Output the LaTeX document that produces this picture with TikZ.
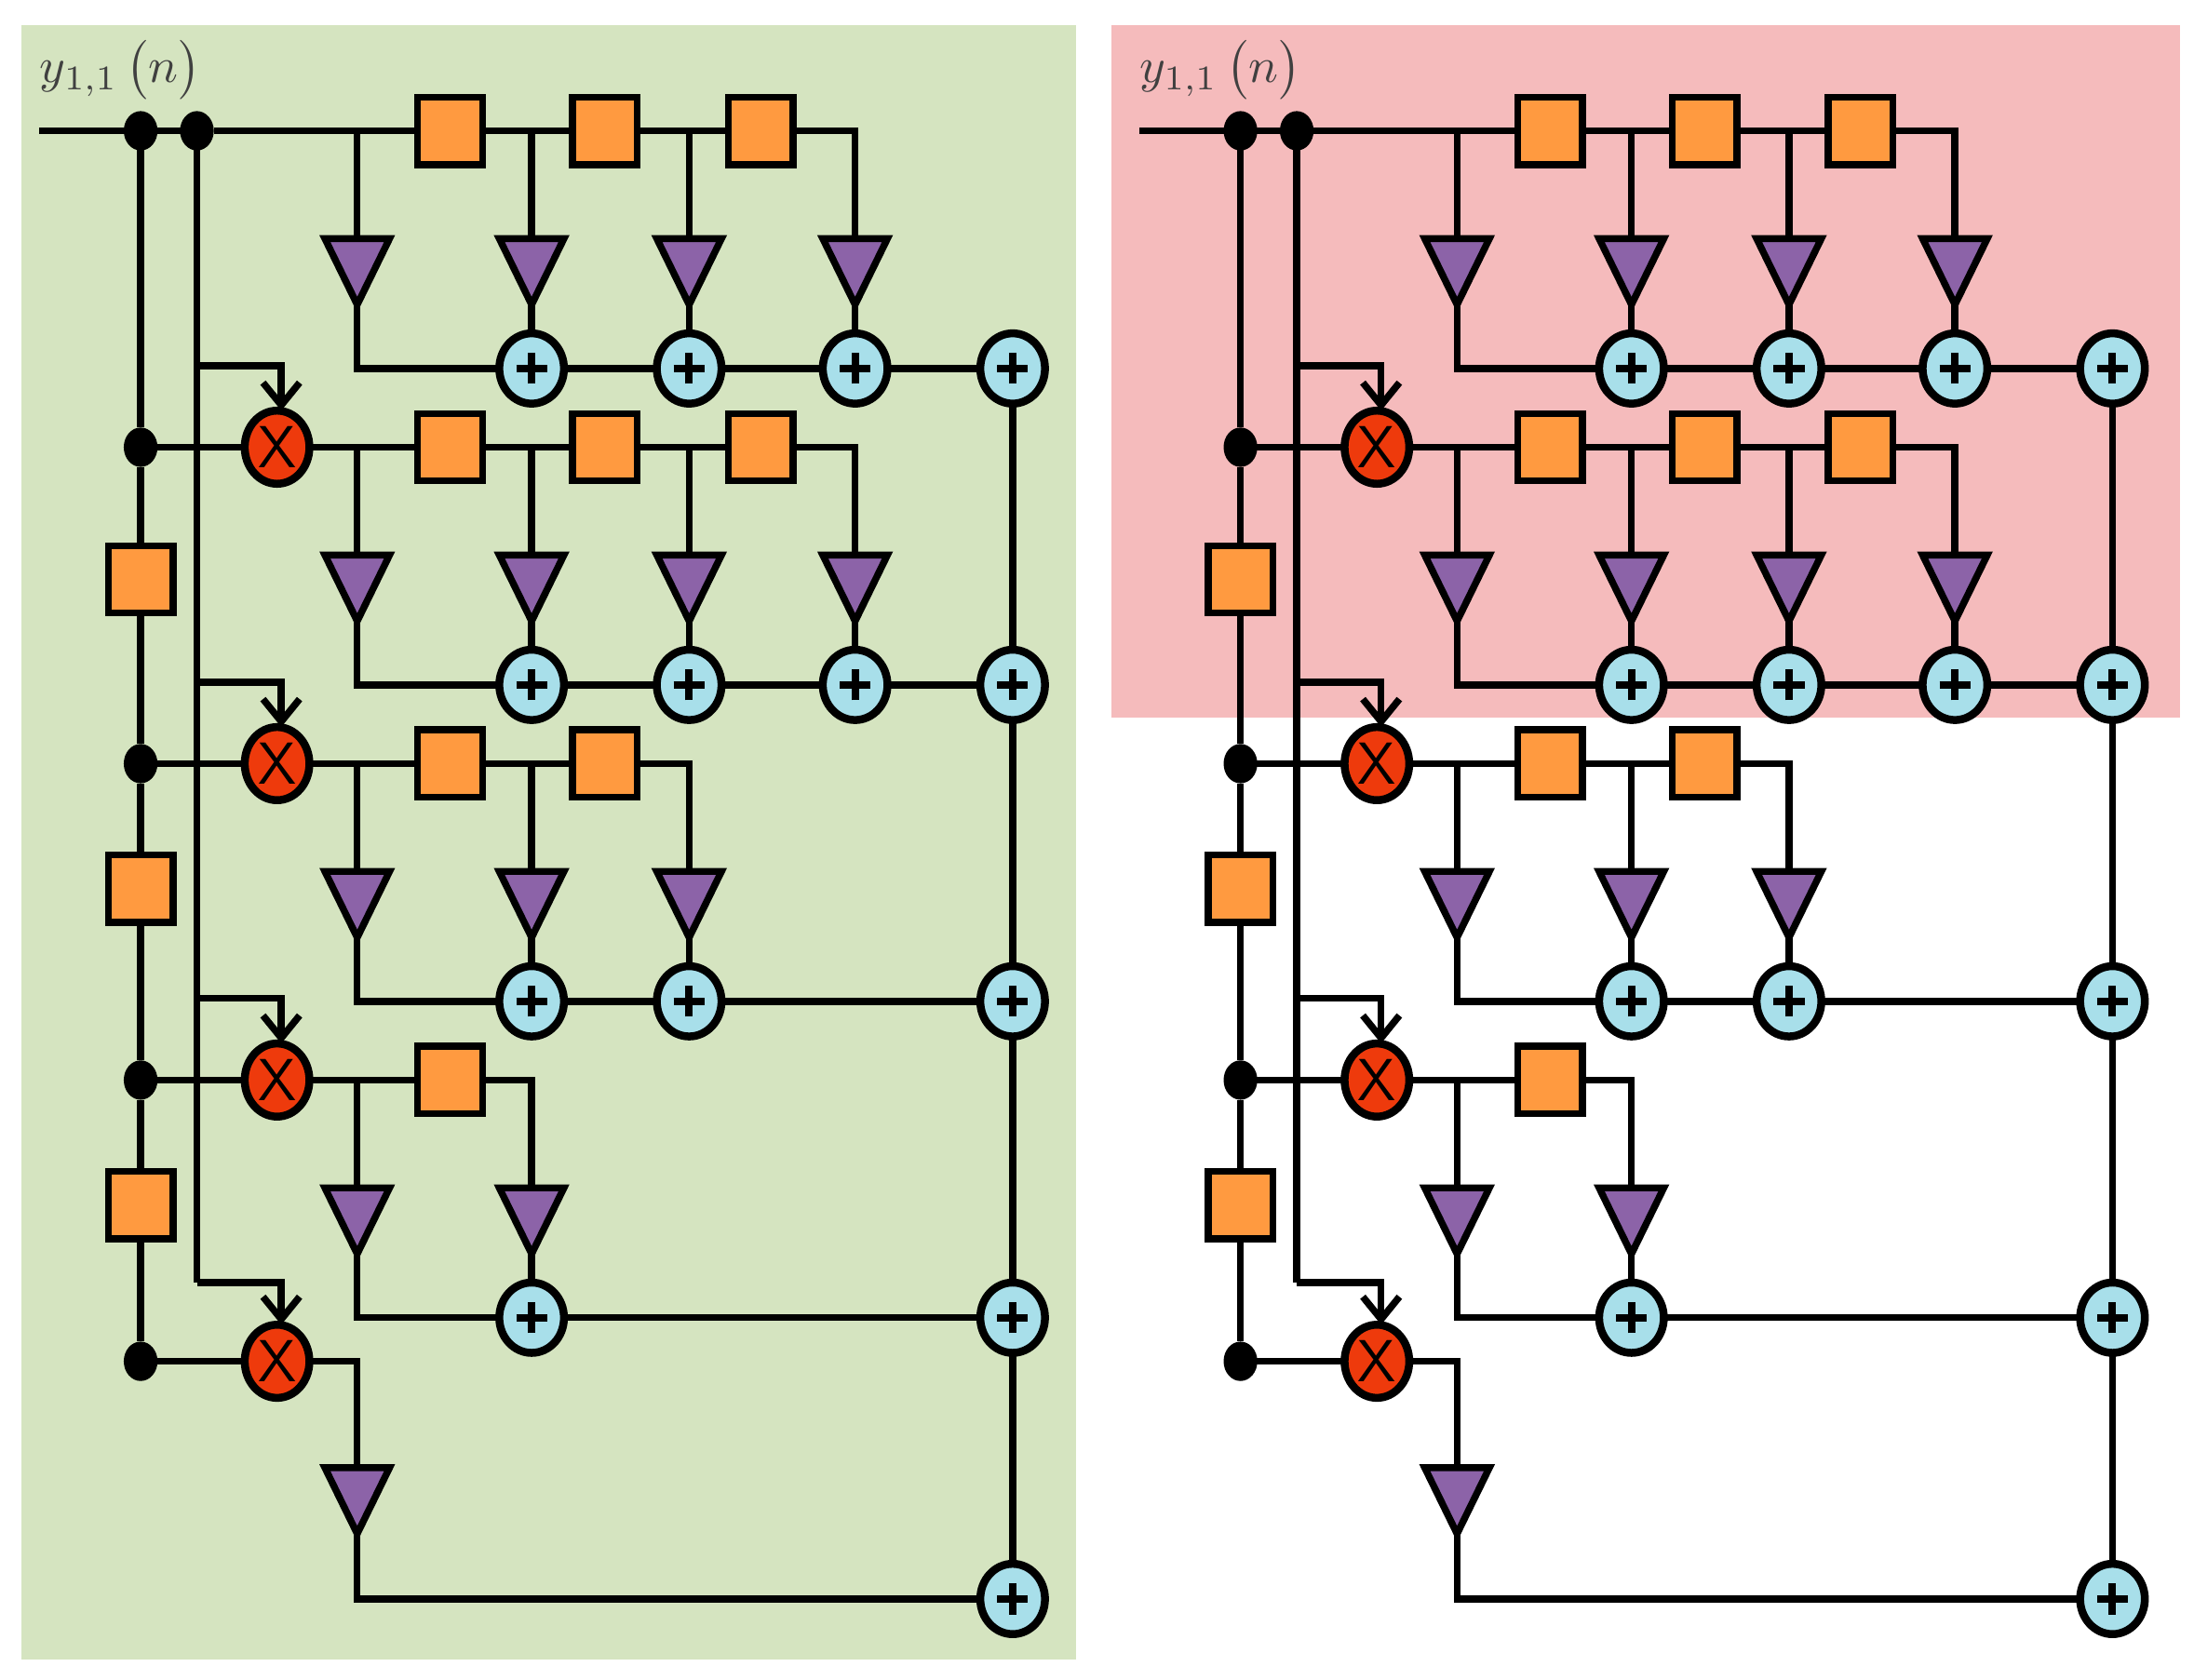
\documentclass[tikz,border=0pt]{standalone}
\usetikzlibrary{shapes.geometric,arrows.meta}
\definecolor{dorange}{HTML}{FF9A40}
\definecolor{dpurple}{HTML}{8C63A8}
\definecolor{dcyan}{HTML}{A8DFEA}
\definecolor{dred}{HTML}{EE3A0C}
\definecolor{bggreen}{HTML}{D5E4C0}
\definecolor{bgpink}{HTML}{F5BBBC}
\tikzset{
  every path/.style={line width=1.4pt},
  delay/.style={draw,fill=dorange,minimum width=0.46cm,minimum height=0.48cm,inner sep=0pt,outer sep=0pt,line width=1.4pt},
  gain/.style={draw,fill=dpurple,isosceles triangle,shape border rotate=270,isosceles triangle stretches,minimum width=0.46cm,minimum height=0.47cm,inner sep=0pt,outer sep=0pt,line width=1.4pt},
  adder/.style={draw,fill=dcyan,ellipse,minimum width=0.46cm,minimum height=0.5cm,inner sep=0pt,outer sep=0pt,line width=1.6pt,
    path picture={\draw[line width=1.5pt] ([xshift=-0.11cm]path picture bounding box.center) -- ([xshift=0.11cm]path picture bounding box.center);
      \draw[line width=1.5pt] ([yshift=-0.11cm]path picture bounding box.center) -- ([yshift=0.11cm]path picture bounding box.center);}},
  mult/.style={draw,fill=dred,ellipse,minimum width=0.46cm,minimum height=0.52cm,inner sep=0pt,outer sep=0pt,line width=1.6pt,font=\sffamily\large},
  dot/.style={fill=black,ellipse,minimum width=0.24cm,minimum height=0.28cm,inner sep=0pt,outer sep=0pt},
  arr/.style={-{Straight Barb[length=1.6mm,width=2.6mm]}}
}
\def\Tlist{{2.54,3.78,4.90,6.08}}
\def\Dlist{{0,3.20,4.30,5.41}}
\newcommand\drawpanel[2]{%
\begin{scope}[xshift=#2cm]
  \node[text=black!75,anchor=west,inner sep=0pt] (#1lab) at (0.26,-0.50) {$y_{1,1}\left(\vphantom{\big|}n\right)$};
  \coordinate (#1in) at (0.28,-0.93);
  \node[dot] (#1s0) at (1.00,-0.93) {};
  \node[dot,alias=#1m1] (#1s1) at (1.40,-0.93) {};
  \node[dot] (#1v2) at (1.00,-3.18) {};
  \node[dot] (#1v3) at (1.00,-5.43) {};
  \node[dot] (#1v4) at (1.00,-7.68) {};
  \node[dot] (#1v5) at (1.00,-9.68) {};
  \node[delay] (#1L1) at (1.00,-4.12) {};
  \node[delay] (#1L2) at (1.00,-6.32) {};
  \node[delay] (#1L3) at (1.00,-8.57) {};
  \node[mult] (#1m2) at (1.97,-3.18) {X};
  \node[mult] (#1m3) at (1.97,-5.43) {X};
  \node[mult] (#1m4) at (1.97,-7.68) {X};
  \node[mult] (#1m5) at (1.97,-9.68) {X};
  \draw (#1in) -- (#1s0.center) -- (#1s1.center);
  \draw (#1s0.center) -- (#1v2) -- (#1L1) -- (#1v3) -- (#1L2) -- (#1v4) -- (#1L3) -- (#1v5);
  \foreach \k in {2,...,5} \draw (#1v\k.center) -- (#1m\k);
  \coordinate (#1b2) at (1.40,-2.60);
  \coordinate (#1b3) at (1.40,-4.85);
  \coordinate (#1b4) at (1.40,-7.10);
  \coordinate (#1b5) at (1.40,-9.12);
  \draw (#1s1.center) -- (#1b5);
  \foreach \k in {2,...,5} \draw[arr] (#1b\k) -| ([xshift=0.03cm]#1m\k.north);
  \foreach \k/\Y/\A/\n in {1/0.93/2.62/3, 2/3.18/4.87/3, 3/5.43/7.12/2, 4/7.68/9.37/1} {
    \coordinate (#1t\k0) at (2.54,-\Y);
    \node[gain] (#1g\k0) at (2.54,-\Y-0.91) {};
    \node[adder] (#1r\k) at (7.20,-\A) {};
    \foreach \i in {1,...,\n} {
      \pgfmathsetmacro\tx{\Tlist[\i]}
      \pgfmathsetmacro\dx{\Dlist[\i]}
      \node[delay] (#1d\k\i) at (\dx,-\Y) {};
      \node[gain] (#1g\k\i) at (\tx,-\Y-0.91) {};
      \node[adder] (#1a\k\i) at (\tx,-\A) {};
      \draw (#1d\k\i) -| (#1g\k\i);
      \draw (#1g\k\i) -- (#1a\k\i);
    }
    \draw (#1m\k) -- (#1d\k1);
    \draw (#1t\k0) -- (#1g\k0);
    \draw (#1g\k0) |- (#1a\k1);
    \ifnum\n>1
      \foreach \i [evaluate=\i as \j using int(\i-1)] in {2,...,\n} {
        \draw (#1d\k\j) -- (#1d\k\i);
        \draw (#1a\k\j) -- (#1a\k\i);
      }
    \fi
    \draw (#1a\k\n) -- (#1r\k);
  }
  \node[gain] (#1g50) at (2.54,-10.58) {};
  \node[adder] (#1r5) at (7.20,-11.37) {};
  \draw (#1m5) -| (#1g50);
  \draw (#1g50) |- (#1r5);
  \draw (#1r1) -- (#1r2) -- (#1r3) -- (#1r4) -- (#1r5);
\end{scope}}
\begin{document}
\begin{tikzpicture}
\useasboundingbox (0,0) rectangle (15.60,-11.94);
\fill[bggreen] (0.15,-0.18) rectangle (7.65,-11.80);
\fill[bgpink] (7.90,-0.18) rectangle (15.50,-5.10);
\drawpanel{L}{0}
\drawpanel{R}{7.82}
\end{tikzpicture}
\end{document}
